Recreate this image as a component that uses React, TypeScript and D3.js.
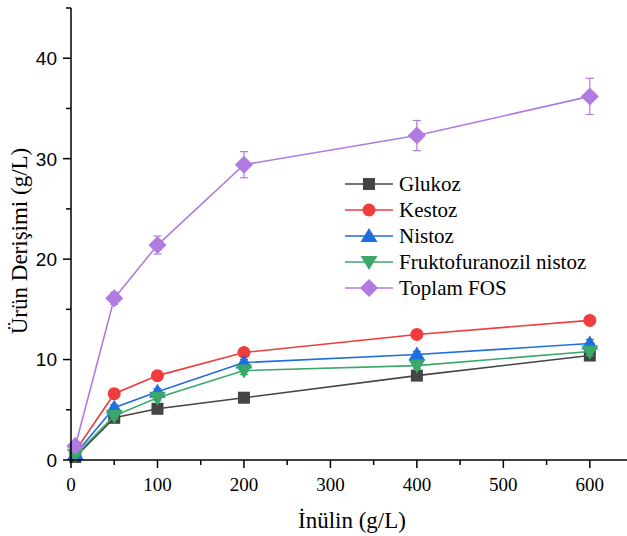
import React from "react";
import * as d3 from "d3";

const xValues = [5, 50, 100, 200, 400, 600];
const glukoz = [0.3, 4.2, 5.1, 6.2, 8.4, 10.4];
const kestoz = [0.9, 6.6, 8.4, 10.7, 12.5, 13.9];
const nistoz = [0.6, 5.2, 6.8, 9.7, 10.5, 11.6];
const fruktofuranozilNistoz = [0.5, 4.4, 6.2, 8.9, 9.4, 10.8];
const toplamFOS = [1.4, 16.1, 21.4, 29.4, 32.3, 36.2];

const glukozErr = [0.05, 0.2, 0.2, 0.2, 0.3, 0.3];
const kestozErr = [0.1, 0.3, 0.3, 0.3, 0.3, 0.4];
const nistozErr = [0.05, 0.3, 0.3, 0.3, 0.3, 0.4];
const fruktoErr = [0.05, 0.3, 0.3, 0.4, 0.3, 0.4];
const toplamErr = [0.2, 0.6, 0.9, 1.3, 1.5, 1.8];

const seriesNames = ["Glukoz", "Kestoz", "Nistoz", "Fruktofuranozil nistoz", "Toplam FOS"];
const seriesColors = ["#454545", "#f03c3c", "#1f6ee0", "#3aa86a", "#b07ae0"];
const seriesSymbols = ["square", "circle", "triangle", "triangleDown", "diamond"];

const xTicks = [0, 100, 200, 300, 400, 500, 600];
const xMinorTicks = [50, 150, 250, 350, 450, 550];
const yTicks = [0, 10, 20, 30, 40];
const yMinorTicks = [5, 15, 25, 35, 45];

const W = 627;
const H = 536;

function Marker({ type, x, y, color }: { type: string; x: number; y: number; color: string }) {
  if (type === "square") return <rect x={x - 6} y={y - 6} width={12} height={12} fill={color} />;
  if (type === "circle") return <circle cx={x} cy={y} r={6.5} fill={color} />;
  if (type === "triangle")
    return <path d={`M${x},${y - 8} L${x + 8.5},${y + 6} L${x - 8.5},${y + 6} Z`} fill={color} />;
  if (type === "triangleDown")
    return <path d={`M${x},${y + 8} L${x + 8.5},${y - 6} L${x - 8.5},${y - 6} Z`} fill={color} />;
  return <path d={`M${x},${y - 9} L${x + 9},${y} L${x},${y + 9} L${x - 9},${y} Z`} fill={color} />;
}

export default function App() {
  const x = d3.scaleLinear().domain([0, 643]).range([71, 627]);
  const y = d3.scaleLinear().domain([0, 45]).range([460, 8]);
  const data = [glukoz, kestoz, nistoz, fruktofuranozilNistoz, toplamFOS];
  const errs = [glukozErr, kestozErr, nistozErr, fruktoErr, toplamErr];
  const line = d3
    .line<number>()
    .x((_, i) => x(xValues[i]))
    .y((d) => y(d));

  const legendX = 345;
  const legendY0 = 184;
  const legendDy = 26;

  return (
    <div style={{ position: "absolute", left: 0, top: 0 }}>
      <svg width={W} height={H} style={{ display: "block", background: "#fff" }}>
        {/* serif texts first */}
        <g style={{ fontFamily: "'Liberation Serif'" }}>
          <text x={352} y={528} textAnchor="middle" fontSize={23} style={{ fontFamily: "'Liberation Serif'" }}>
            İnülin (g/L)
          </text>
          <text transform={`translate(27,241) rotate(-90)`} textAnchor="middle" fontSize={23} style={{ fontFamily: "'Liberation Serif'" }}>
            Ürün Derişimi (g/L)
          </text>
          {xTicks.map((t) => (
            <text key={"xl" + t} x={x(t)} y={491} textAnchor="middle" fontSize={19} style={{ fontFamily: "'Liberation Serif'" }}>
              {t}
            </text>
          ))}
          {seriesNames.map((name, i) => (
            <text key={"lt" + i} x={legendX + 54} y={legendY0 + i * legendDy} dy="0.33em" fontSize={21} style={{ fontFamily: "'Liberation Serif'" }}>
              {name}
            </text>
          ))}
        </g>

        {data.map((vals, si) => (
          <g key={si}>
            <path d={line(vals) || ""} fill="none" stroke={seriesColors[si]} strokeWidth={1.6} />
            {vals.map((v, i) => {
              const e = errs[si][i];
              const cx = x(xValues[i]);
              return (
                <g key={i} stroke={seriesColors[si]} strokeWidth={1.2}>
                  <line x1={cx} x2={cx} y1={y(v - e)} y2={y(v + e)} />
                  <line x1={cx - 4} x2={cx + 4} y1={y(v - e)} y2={y(v - e)} />
                  <line x1={cx - 4} x2={cx + 4} y1={y(v + e)} y2={y(v + e)} />
                </g>
              );
            })}
            {vals.map((v, i) => (
              <Marker key={"m" + i} type={seriesSymbols[si]} x={x(xValues[i])} y={y(v)} color={seriesColors[si]} />
            ))}
          </g>
        ))}

        <g stroke="#000" strokeWidth={1.5}>
          <line x1={x(0)} x2={x(0)} y1={y(45)} y2={y(0) + 0.75} />
          <line x1={x(0) - 0.75} x2={W} y1={y(0)} y2={y(0)} />
          {yTicks.map((t) => (
            <line key={"yt" + t} x1={x(0) - 8} x2={x(0)} y1={y(t)} y2={y(t)} />
          ))}
          {yMinorTicks.map((t) => (
            <line key={"ym" + t} x1={x(0) - 5} x2={x(0)} y1={y(t)} y2={y(t)} />
          ))}
          {xTicks.map((t) => (
            <line key={"xt" + t} x1={x(t)} x2={x(t)} y1={y(0)} y2={y(0) + 8} />
          ))}
          {xMinorTicks.map((t) => (
            <line key={"xm" + t} x1={x(t)} x2={x(t)} y1={y(0)} y2={y(0) + 5} />
          ))}
        </g>

        {seriesNames.map((name, i) => {
          const ly = legendY0 + i * legendDy;
          return (
            <g key={"lg" + i}>
              <line x1={legendX} x2={legendX + 48} y1={ly} y2={ly} stroke={seriesColors[i]} strokeWidth={1.6} />
              <Marker type={seriesSymbols[i]} x={legendX + 24} y={ly} color={seriesColors[i]} />
            </g>
          );
        })}

        {/* sans texts last */}
        {yTicks.map((t) => (
          <text key={"yl" + t} x={x(0) - 14} y={y(t)} dy="0.36em" textAnchor="end" fontSize={19} style={{ fontFamily: "'Liberation Sans'" }}>
            {t}
          </text>
        ))}
      </svg>
    </div>
  );
}
